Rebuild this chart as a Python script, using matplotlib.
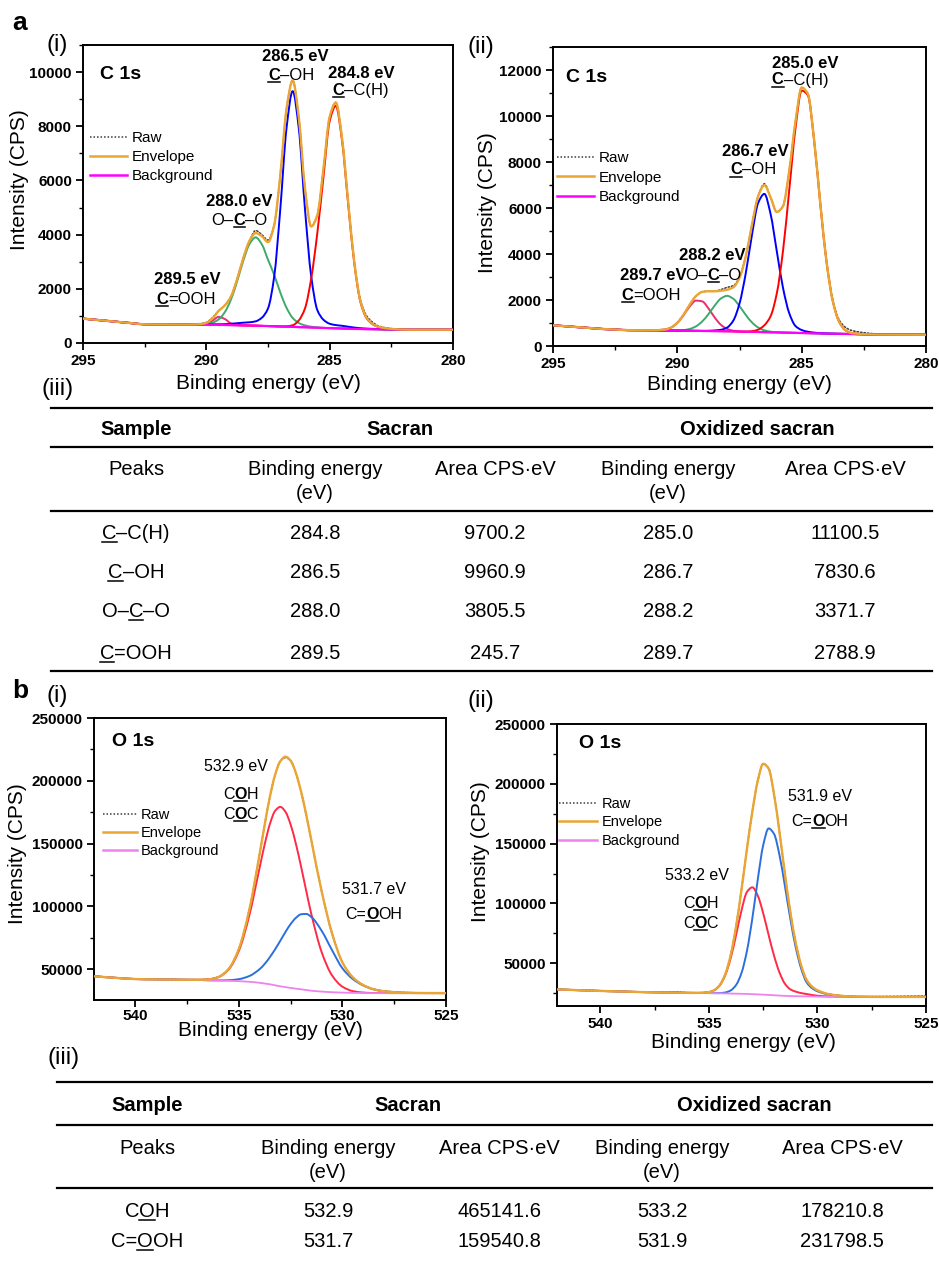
import numpy as np
import matplotlib
matplotlib.use('Agg')
import matplotlib.pyplot as plt
from matplotlib.path import Path
from matplotlib.patches import PathPatch
from matplotlib.lines import Line2D
from matplotlib.ticker import MultipleLocator

plt.rcParams['font.family'] = ['Liberation Sans', 'DejaVu Sans']

W, H, DPI = 939, 1264, 100

# ---------------- C 1s data (binding energy grid, eV) ----------------
c1s_be = [295, 294.5, 294, 293.5, 293, 292.5, 292, 291.5, 291, 290.5,
          290.25, 290, 289.75, 289.5, 289.25, 289, 288.75, 288.5, 288.25, 288,
          287.75, 287.5, 287.25, 287, 286.75, 286.5, 286.25, 286, 285.75, 285.5,
          285.25, 285, 284.75, 284.5, 284.25, 284, 283.75, 283.5, 283.25, 283,
          282.5, 282, 281.5, 281, 280.5, 280]

# sacran, C 1s  (components are heights above the background)
sac_c1s_bg = [900, 857, 815, 772, 730, 690, 688, 686, 684, 682,
              681, 680, 675, 670, 665, 660, 655, 650, 645, 640,
              632, 625, 617, 610, 602, 595, 587, 580, 572, 565,
              557, 550, 542, 535, 527, 520, 516, 512, 509, 505,
              497, 490, 490, 490, 490, 490]
sac_c1s_cooh = [0] * 10 + [2, 29, 150, 294, 220, 63, 7] + [0] * 29
sac_c1s_oco = [0] * 10 + [6, 24, 75, 203, 474, 948, 1625, 2389, 3009, 3260,
                          3010, 2450, 1900, 1250, 700, 330, 150, 70, 30, 10] + [0] * 16
sac_c1s_coh = [0] * 9 + [5, 8, 10, 15, 20, 30, 50, 75, 100, 120, 160, 300, 650,
                         1830, 4350, 7320, 8700, 7320, 4350, 1900, 650, 300, 160,
                         120, 100, 75, 50, 30, 20, 12, 10, 5] + [0] * 5
sac_c1s_cc = [0] * 24 + [15, 60, 250, 700, 1800, 3500, 5585, 7640, 8210, 6940,
                         4610, 2410, 990, 400, 180, 80, 20, 5] + [0] * 4
sac_c1s_raw = [910, 862, 820, 776, 735, 698, 700, 700, 702, 705,
               715, 760, 935, 1190, 1390, 1720, 2360, 3140, 3770, 4150,
               4000, 3800, 4350, 6210, 8640, 9700, 8310, 5700, 4300, 4730,
               6440, 8350, 8880, 7580, 5210, 2980, 1580, 1000, 760, 620,
               530, 500, 495, 495, 495, 498]

# oxidized sacran, C 1s
ox_c1s_bg = [900, 860, 820, 780, 740, 715, 690, 685, 680, 675,
             672, 670, 666, 662, 659, 655, 651, 647, 644, 640,
             634, 627, 621, 615, 609, 602, 596, 590, 584, 577,
             571, 565, 559, 552, 546, 540, 535, 530, 525, 520,
             510, 500, 497, 495, 492, 490]
ox_c1s_cooh = [0] * 8 + [5, 40, 130, 335, 670, 1060, 1315, 1285, 985, 595,
                         280, 105, 30, 7] + [0] * 24
ox_c1s_oco = [0] * 10 + [2, 8, 27, 79, 196, 411, 734, 1107, 1419, 1540,
                         1419, 1107, 734, 411, 196, 79, 27, 8] + [0] * 18
ox_c1s_coh = [0] * 16 + [10, 30, 60, 160, 470, 1220, 2530, 4210, 5610, 6010,
                         5140, 3530, 1940, 850, 300, 130, 60, 30, 10, 5] + [0] * 10
ox_c1s_cc = [0] * 22 + [5, 30, 100, 300, 700, 1700, 3560, 6200, 8880, 10540,
                        10340, 8390, 5630, 3120, 1430, 540, 170, 45, 5] + [0] * 5
ox_c1s_raw = [910, 866, 826, 786, 746, 720, 697, 690, 690, 720,
              810, 1013, 1363, 1800, 2170, 2350, 2380, 2380, 2450, 2550,
              2620, 3000, 3890, 5270, 6515, 7050, 6460, 5830, 6080, 7630,
              9750, 11235, 10960, 8970, 6190, 3665, 2000, 1150, 820, 680,
              580, 530, 515, 505, 500, 495]

# ---------------- O 1s data ----------------
sac_o1s_be = [542, 541, 540, 539, 538, 537.5, 537, 536.5, 536, 535.5,
              535, 534.5, 534, 533.75, 533.5, 533.25, 533, 532.75, 532.5, 532.25,
              532, 531.75, 531.5, 531, 530.5, 530, 529.5, 529, 528.5, 528,
              527, 526, 525]
sac_o1s_bg = [44200, 43000, 42000, 41700, 41500, 41400, 41300, 41000, 40800, 40600,
              40300, 39800, 39000, 38400, 37800, 37000, 36200, 35550, 34900, 34350,
              33800, 33250, 32700, 32000, 31500, 31200, 31000, 30900, 30800, 30800,
              30800, 30800, 30800]
sac_o1s_coh = [0] * 5 + [20, 120, 630, 2650, 8940, 24300, 52800, 91800, 111400, 128000,
                         139100, 143000, 139600, 130000, 115400, 97800, 79000, 60800, 31200,
                         13300, 4680, 1360, 330, 70, 12] + [0] * 3
sac_o1s_cooh = [0] * 7 + [30, 120, 480, 1620, 4600, 10900, 15800, 21800, 28800, 36400,
                          44000, 51000, 56400, 59800, 60600, 58700, 48300, 33400, 19300,
                          11000, 6000, 3000, 1500, 300, 50] + [0]
sac_o1s_raw = [44300, 43100, 42100, 41800, 41600, 41500, 41500, 41900, 43600, 50000,
               66200, 97200, 141700, 165600, 187600, 204900, 215600, 218500, 215900, 206100,
               191400, 172800, 152200, 111500, 78200, 55200, 43400, 37300, 33900, 32400,
               31200, 31000, 31000]

ox_o1s_be = [542, 541, 540, 539, 538, 537, 536.5, 536, 535.5, 535,
             534.75, 534.5, 534.25, 534, 533.75, 533.5, 533.25, 533, 532.75, 532.5,
             532.25, 532, 531.75, 531.5, 531.25, 531, 530.75, 530.5, 530.25, 530,
             529.5, 529, 528.5, 528, 527, 526, 525]
ox_o1s_bg = [28200, 27500, 26900, 26400, 25900, 25600, 25500, 25300, 25200, 25100,
             25000, 24900, 24800, 24700, 24600, 24500, 24400, 24200, 24000, 23800,
             23500, 23300, 23000, 22800, 22600, 22500, 22400, 22300, 22200, 22100,
             22000, 22000, 21900, 21900, 21900, 21900, 21900]
ox_o1s_coh = [0] * 8 + [55, 820, 2540, 6700, 15200, 29450, 48900, 69700, 85200, 89300,
                        82500, 68000, 50100, 33000, 19300, 10100, 5600, 3800, 2700, 2000,
                        1300, 800, 300, 100] + [0] * 5
ox_o1s_cooh = [0] * 9 + [10, 46, 205, 790, 2580, 7250, 17400, 35900, 63400, 96100,
                         124900, 139200, 134800, 117400, 91800, 64500, 40700, 23100, 11800, 7000,
                         4500, 2000, 900, 400, 150] + [0] * 3
ox_o1s_raw = [28300, 27600, 27000, 26500, 26000, 25700, 25900, 25400, 25300, 25950,
              27600, 31800, 40800, 56700, 80800, 111600, 145500, 176900, 202600, 216700,
              212800, 191100, 159700, 124700, 92700, 67000, 48200, 36100, 30500, 27400,
              24300, 23000, 22300, 22100, 22200, 22400, 22600]

# ---------------- tables ----------------
# "_" marks the underlined atom
c1s_peaks = ['_C–C(H)', '_C–OH', 'O–_C–O', '_C=OOH']
c1s_sac_be = [284.8, 286.5, 288.0, 289.5]
c1s_sac_area = [9700.2, 9960.9, 3805.5, 245.7]
c1s_ox_be = [285.0, 286.7, 288.2, 289.7]
c1s_ox_area = [11100.5, 7830.6, 3371.7, 2788.9]

o1s_peaks = ['C_OH', 'C=_OOH']
o1s_sac_be = [532.9, 531.7]
o1s_sac_area = [465141.6, 159540.8]
o1s_ox_be = [533.2, 531.9]
o1s_ox_area = [178210.8, 231798.5]


fig = plt.figure(figsize=(W / DPI, H / DPI), dpi=DPI)
renderer = fig.canvas.get_renderer()


def ax_rect(left, top, right, bottom):
    # pixel box -> figure fraction rect
    return [left / W, 1 - bottom / H, (right - left) / W, (bottom - top) / H]


def smooth_path(x, y):
    # monotone cubic (pchip-like) bezier through the read points
    x = np.asarray(x, float)
    y = np.asarray(y, float)
    h = np.diff(x)
    d = np.diff(y) / h
    m = np.zeros_like(y)
    m[0], m[-1] = d[0], d[-1]
    for i in range(1, len(y) - 1):
        if d[i - 1] * d[i] > 0:
            w1 = 2 * h[i] + h[i - 1]
            w2 = h[i] + 2 * h[i - 1]
            m[i] = (w1 + w2) / (w1 / d[i - 1] + w2 / d[i])
    verts = [(x[0], y[0])]
    codes = [Path.MOVETO]
    for i in range(len(x) - 1):
        verts += [(x[i] + h[i] / 3, y[i] + m[i] * h[i] / 3),
                  (x[i + 1] - h[i] / 3, y[i + 1] - m[i + 1] * h[i] / 3),
                  (x[i + 1], y[i + 1])]
        codes += [Path.CURVE4] * 3
    return Path(verts, codes)


def curve(ax, x, y, color, lw=1.4, ls='-', z=2):
    ax.add_patch(PathPatch(smooth_path(x, y), fill=False, edgecolor=color,
                           lw=lw, ls=ls, zorder=z, capstyle='round'))


def split_marked(s):
    parts, buf, i = [], '', 0
    while i < len(s):
        if s[i] == '_' and i + 1 < len(s):
            if buf:
                parts.append((buf, False))
            parts.append((s[i + 1], True))
            buf = ''
            i += 2
        else:
            buf += s[i]
            i += 1
    if buf:
        parts.append((buf, False))
    return parts


def put(x, y, s, size, bold=False, ul_bold=False, ha='center'):
    # x, y: figure pixels (y from top, middle of the capitals)
    parts = split_marked(s)
    em = size * DPI / 72
    base = y + 0.36 * em
    texts, widths = [], []
    for seg, ul in parts:
        wgt = 'bold' if (bold or (ul and ul_bold)) else 'normal'
        t = fig.text(0, 0, seg, fontsize=size, fontweight=wgt, va='baseline', ha='left')
        texts.append(t)
        widths.append(t.get_window_extent(renderer).width)
    x0 = x - sum(widths) / 2 if ha == 'center' else x
    for t, wd, (seg, ul) in zip(texts, widths, parts):
        t.set_position((x0 / W, 1 - base / H))
        if ul:
            yl = 1 - (base + 0.12 * em) / H
            fig.add_artist(Line2D([x0 / W, (x0 + wd) / W], [yl, yl],
                                  transform=fig.transFigure, color='k', lw=1.1))
        x0 += wd


def spectrum(ax, be, bg, comps, comp_colors, raw, bg_color, bg_lw):
    bg = np.array(bg, float)
    env = bg.copy()
    for vals, col in zip(comps, comp_colors):
        vals = np.array(vals, float)
        env = env + vals
        curve(ax, be, bg + vals, col, lw=1.4, z=2)
    curve(ax, be, bg, bg_color, lw=bg_lw, z=3)
    curve(ax, be, raw, '#3a3a3a', lw=1.1, ls=(0, (1, 1.3)), z=4)
    curve(ax, be, env, '#EBA532', lw=1.7, z=5)
    ax.plot([], [], color='#3a3a3a', lw=1.1, ls=(0, (1, 1.3)), label='Raw')
    ax.plot([], [], color='#EBA532', lw=1.8, label='Envelope')
    ax.plot([], [], color=bg_color, lw=1.8, label='Background')


def style_axes(ax, xlim, ylim, xstep, ystep, xlab_pos, ylab_pos, xpad=3):
    ax.set_xlim(*xlim)
    ax.set_ylim(*ylim)
    ax.xaxis.set_major_locator(MultipleLocator(xstep))
    ax.xaxis.set_minor_locator(MultipleLocator(xstep / 2))
    ax.yaxis.set_major_locator(MultipleLocator(ystep))
    ax.yaxis.set_minor_locator(MultipleLocator(ystep / 2))
    ax.tick_params(which='major', direction='out', length=5, width=1.3, labelsize=11, pad=3)
    ax.tick_params(axis='x', which='major', pad=xpad)
    ax.tick_params(which='minor', direction='out', length=3, width=1.0)
    for sp in ax.spines.values():
        sp.set_linewidth(1.4)
    for lab in ax.get_xticklabels() + ax.get_yticklabels():
        lab.set_fontweight('bold')
    ax.set_xlabel('Binding energy (eV)', fontsize=15, va='center')
    ax.xaxis.set_label_coords(*xlab_pos)
    ax.set_ylabel('Intensity (CPS)', fontsize=15, va='center')
    ax.yaxis.set_label_coords(*ylab_pos)


leg_kw = dict(loc='upper left', frameon=False, handletextpad=0.3,
              borderaxespad=0, borderpad=0)

# ---------- a(i) ----------
ax1 = fig.add_axes(ax_rect(83, 45, 453, 343))
spectrum(ax1, c1s_be, sac_c1s_bg, [sac_c1s_cooh, sac_c1s_oco, sac_c1s_coh, sac_c1s_cc],
         ['#EE2A7B', '#3DAA6A', '#0000FF', '#FF0000'], sac_c1s_raw, '#FF00FF', 1.6)
style_axes(ax1, (295, 280), (0, 11000), 5, 2000, (0.501, -0.136), (-0.172, 0.547))
ax1.legend(bbox_to_anchor=(0.02, 0.71), fontsize=11, handlelength=2.4,
           labelspacing=0.32, **leg_kw)

# ---------- a(ii) ----------
ax2 = fig.add_axes(ax_rect(553, 47, 926, 346))
spectrum(ax2, c1s_be, ox_c1s_bg, [ox_c1s_cooh, ox_c1s_oco, ox_c1s_coh, ox_c1s_cc],
         ['#EE2A6E', '#3DAA6A', '#0000FF', '#FF0000'], ox_c1s_raw, '#FF00FF', 1.6)
style_axes(ax2, (295, 280), (0, 13000), 5, 2000, (0.499, -0.130), (-0.176, 0.478))
ax2.legend(bbox_to_anchor=(0.012, 0.651), fontsize=11, handlelength=2.4,
           labelspacing=0.35, **leg_kw)

# ---------- b(i) ----------
ax3 = fig.add_axes(ax_rect(94, 718, 446, 1000))
spectrum(ax3, sac_o1s_be, sac_o1s_bg, [sac_o1s_coh, sac_o1s_cooh],
         ['#FF2A45', '#2B6FDF'], sac_o1s_raw, '#EE82EE', 1.3)
style_axes(ax3, (542, 525), (25300, 250000), 5, 50000, (0.5, -0.108), (-0.217, 0.52), xpad=1.5)
ax3.legend(bbox_to_anchor=(0.026, 0.681), fontsize=10.5, handlelength=2.3,
           labelspacing=0.27, **leg_kw)

# ---------- b(ii) ----------
ax4 = fig.add_axes(ax_rect(557, 724, 926, 1006))
spectrum(ax4, ox_o1s_be, ox_o1s_bg, [ox_o1s_coh, ox_o1s_cooh],
         ['#FF2A45', '#2B6FDF'], ox_o1s_raw, '#EE82EE', 1.3)
style_axes(ax4, (542, 525), (14300, 250000), 5, 50000, (0.504, -0.129), (-0.207, 0.546))
ax4.legend(bbox_to_anchor=(0.006, 0.741), fontsize=10.5, handlelength=2.6,
           labelspacing=0.3, **leg_kw)

# ---------- panel texts ----------
put(20, 20, 'a', 19, bold=True)
put(20, 689, 'b', 19, bold=True)
for (x, y, s) in [(57, 42, '(i)'), (481, 44, '(ii)'), (58, 386, '(iii)'),
                  (57, 693, '(i)'), (481, 698, '(ii)'), (64, 1055, '(iii)')]:
    put(x, y, s, 17.5)

put(100, 72, 'C 1s', 14, bold=True, ha='left')
put(566, 74.5, 'C 1s', 14, bold=True, ha='left')
put(112, 739.5, 'O 1s', 14, bold=True, ha='left')
put(579, 740.5, 'O 1s', 14, bold=True, ha='left')

# peak labels, C 1s
for (x, y, s, b) in [(295, 55, '286.5 eV', True), (291.5, 73.5, '_C–OH', False),
                     (361.7, 71.7, '284.8 eV', True), (360.8, 89, '_C–C(H)', False),
                     (239, 200, '288.0 eV', True), (239.5, 219, 'O–_C–O', False),
                     (187.5, 278.5, '289.5 eV', True), (186, 297.5, '_C=OOH', False),
                     (805.5, 61.5, '285.0 eV', True), (800, 78.5, '_C–C(H)', False),
                     (755.5, 150, '286.7 eV', True), (753.5, 168.5, '_C–OH', False),
                     (712.5, 253.5, '288.2 eV', True), (713.5, 273.5, 'O–_C–O', False),
                     (653.5, 273.5, '289.7 eV', True), (651.5, 293.5, '_C=OOH', False)]:
    put(x, y, s, 12, bold=b, ul_bold=True)

# peak labels, O 1s
for (x, y, s) in [(235.5, 765.5, '532.9 eV'), (240.5, 793.5, 'C_OH'), (240.5, 813, 'C_OC'),
                  (374.5, 888.5, '531.7 eV'), (374, 913, 'C=_OOH'),
                  (819.5, 795.5, '531.9 eV'), (820, 820.5, 'C=_OOH'),
                  (696.5, 874.5, '533.2 eV'), (700.5, 902.5, 'C_OH'), (700.5, 922.5, 'C_OC')]:
    put(x, y, s, 11.5, ul_bold=True)


# ---------- tables ----------
def rule(y, x0, x1):
    fig.add_artist(Line2D([x0 / W, x1 / W], [1 - y / H, 1 - y / H],
                          transform=fig.transFigure, color='k', lw=1.6))


def table(peaks, sac_be, sac_area, ox_be, ox_area, rules, x0, x1,
          head_y, sub_y, row_y, cols, sac_x, ox_x):
    for y in rules:
        rule(y, x0, x1)
    put(cols[0], head_y, 'Sample', 14.5, bold=True)
    put(sac_x, head_y, 'Sacran', 14.5, bold=True)
    put(ox_x, head_y, 'Oxidized sacran', 14.5, bold=True)
    put(cols[0], sub_y, 'Peaks', 14.5)
    for c in (cols[1], cols[3]):
        put(c, sub_y, 'Binding energy', 14.5)
        put(c, sub_y + 24, '(eV)', 14.5)
    for c in (cols[2], cols[4]):
        put(c, sub_y, 'Area CPS·eV', 14.5)
    for i, y in enumerate(row_y):
        put(cols[0], y, peaks[i], 14.5)
        put(cols[1], y, '%.1f' % sac_be[i], 14.5)
        put(cols[2], y, '%.1f' % sac_area[i], 14.5)
        put(cols[3], y, '%.1f' % ox_be[i], 14.5)
        put(cols[4], y, '%.1f' % ox_area[i], 14.5)


table(c1s_peaks, c1s_sac_be, c1s_sac_area, c1s_ox_be, c1s_ox_area,
      [408, 447, 511, 671], 51, 932, 428, 468, [532, 571, 610, 652],
      [136, 315, 495, 668, 845], 400, 757)
table(o1s_peaks, o1s_sac_be, o1s_sac_area, o1s_ox_be, o1s_ox_area,
      [1082, 1125, 1188], 57, 932, 1104, 1147, [1210, 1240],
      [147, 328, 499, 662, 842], 408, 754)

fig.savefig('out.png', dpi=DPI)
